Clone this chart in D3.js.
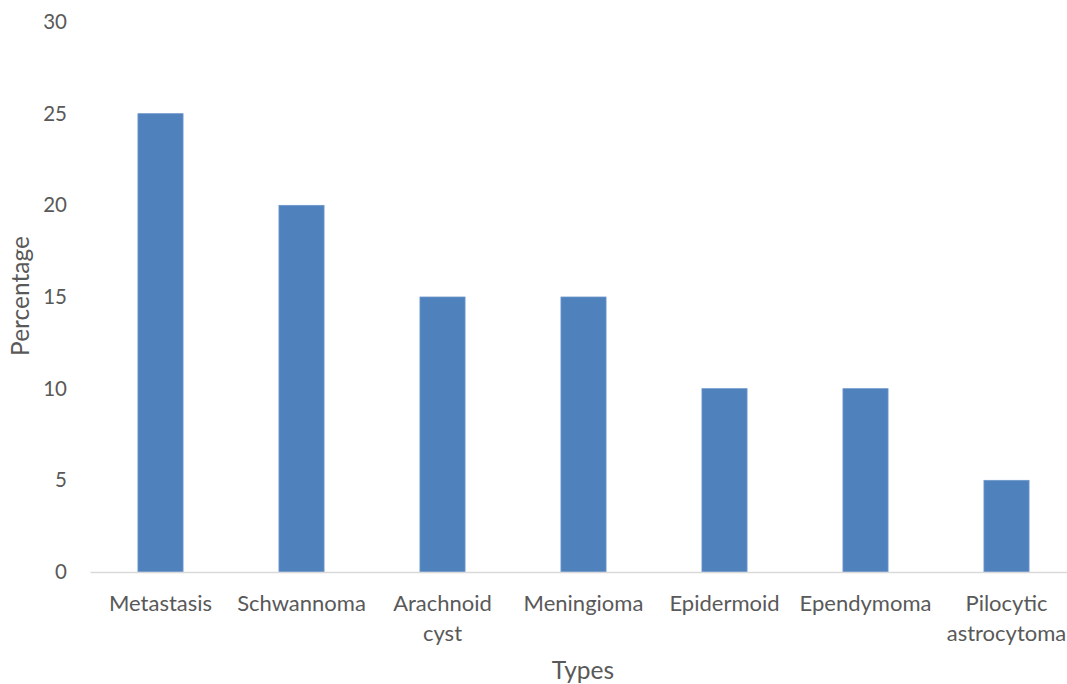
<!DOCTYPE html>
<html>
<head>
<meta charset="utf-8">
<script src="https://cdn.jsdelivr.net/npm/d3@7"></script>
<style>
  html, body { margin: 0; padding: 0; background: #fff; }
  svg { display: block; }
  text { font-family: Lato, "Open Sans", sans-serif; fill: #595959; }
</style>
</head>
<body>
<svg id="chart" width="1067" height="684"></svg>
<script>
// Tumour types and their share (%)
const categories = [
  ["Metastasis"],
  ["Schwannoma"],
  ["Arachnoid", "cyst"],
  ["Meningioma"],
  ["Epidermoid"],
  ["Ependymoma"],
  ["Pilocytic", "astrocytoma"]
];
const values = [25, 20, 15, 15, 10, 10, 5];
const yTicks = [0, 5, 10, 15, 20, 25, 30];

const svg = d3.select("#chart");
const labels = categories.map(c => c.join(" "));

const x = d3.scaleBand()
  .domain(labels)
  .range([90, 1077])
  .paddingInner(0.68)
  .paddingOuter(0.34);

const y = d3.scaleLinear().domain([0, 30]).range([572, 22]);

// Y tick labels (no gridlines, no axis line)
const yAxis = d3.axisLeft(y).tickValues(yTicks).tickSize(0).tickPadding(0);
const gy = svg.append("g").attr("transform", "translate(67,0)").call(yAxis);
gy.select(".domain").remove();
gy.selectAll("text").attr("font-size", 20.5).attr("font-family", "Lato, sans-serif").attr("fill", "#595959");

// Bars
svg.append("g").selectAll("rect")
  .data(values)
  .join("rect")
  .attr("x", (d, i) => x(labels[i]))
  .attr("width", x.bandwidth())
  .attr("y", d => y(d))
  .attr("height", d => y(0) - y(d))
  .attr("fill", "#4f81bd")
  .attr("stroke", "#6e98cc")
  .attr("stroke-width", 0.8);

// Category axis
const xAxis = d3.axisBottom(x).tickSize(0).tickFormat("");
const gx = svg.append("g").attr("transform", `translate(0,${y(0)})`).call(xAxis);
gx.select(".domain").attr("stroke", "#d9d9d9").attr("stroke-width", 1.5);

const catLabels = svg.append("g");
categories.forEach((lines, i) => {
  const cx = x(labels[i]) + x.bandwidth() / 2;
  const t = catLabels.append("text")
    .attr("text-anchor", "middle")
    .attr("font-size", 22)
    .attr("x", cx)
    .attr("y", 611);
  lines.forEach((ln, j) => {
    t.append("tspan").attr("x", cx).attr("dy", j === 0 ? 0 : 30).text(ln);
  });
});

// Axis titles
svg.append("text")
  .attr("x", 583).attr("y", 679)
  .attr("text-anchor", "middle")
  .attr("font-size", 24.5)
  .text("Types");

svg.append("text")
  .attr("transform", "translate(29,296) rotate(-90)")
  .attr("text-anchor", "middle")
  .attr("font-size", 24.5)
  .text("Percentage");
</script>
</body>
</html>
